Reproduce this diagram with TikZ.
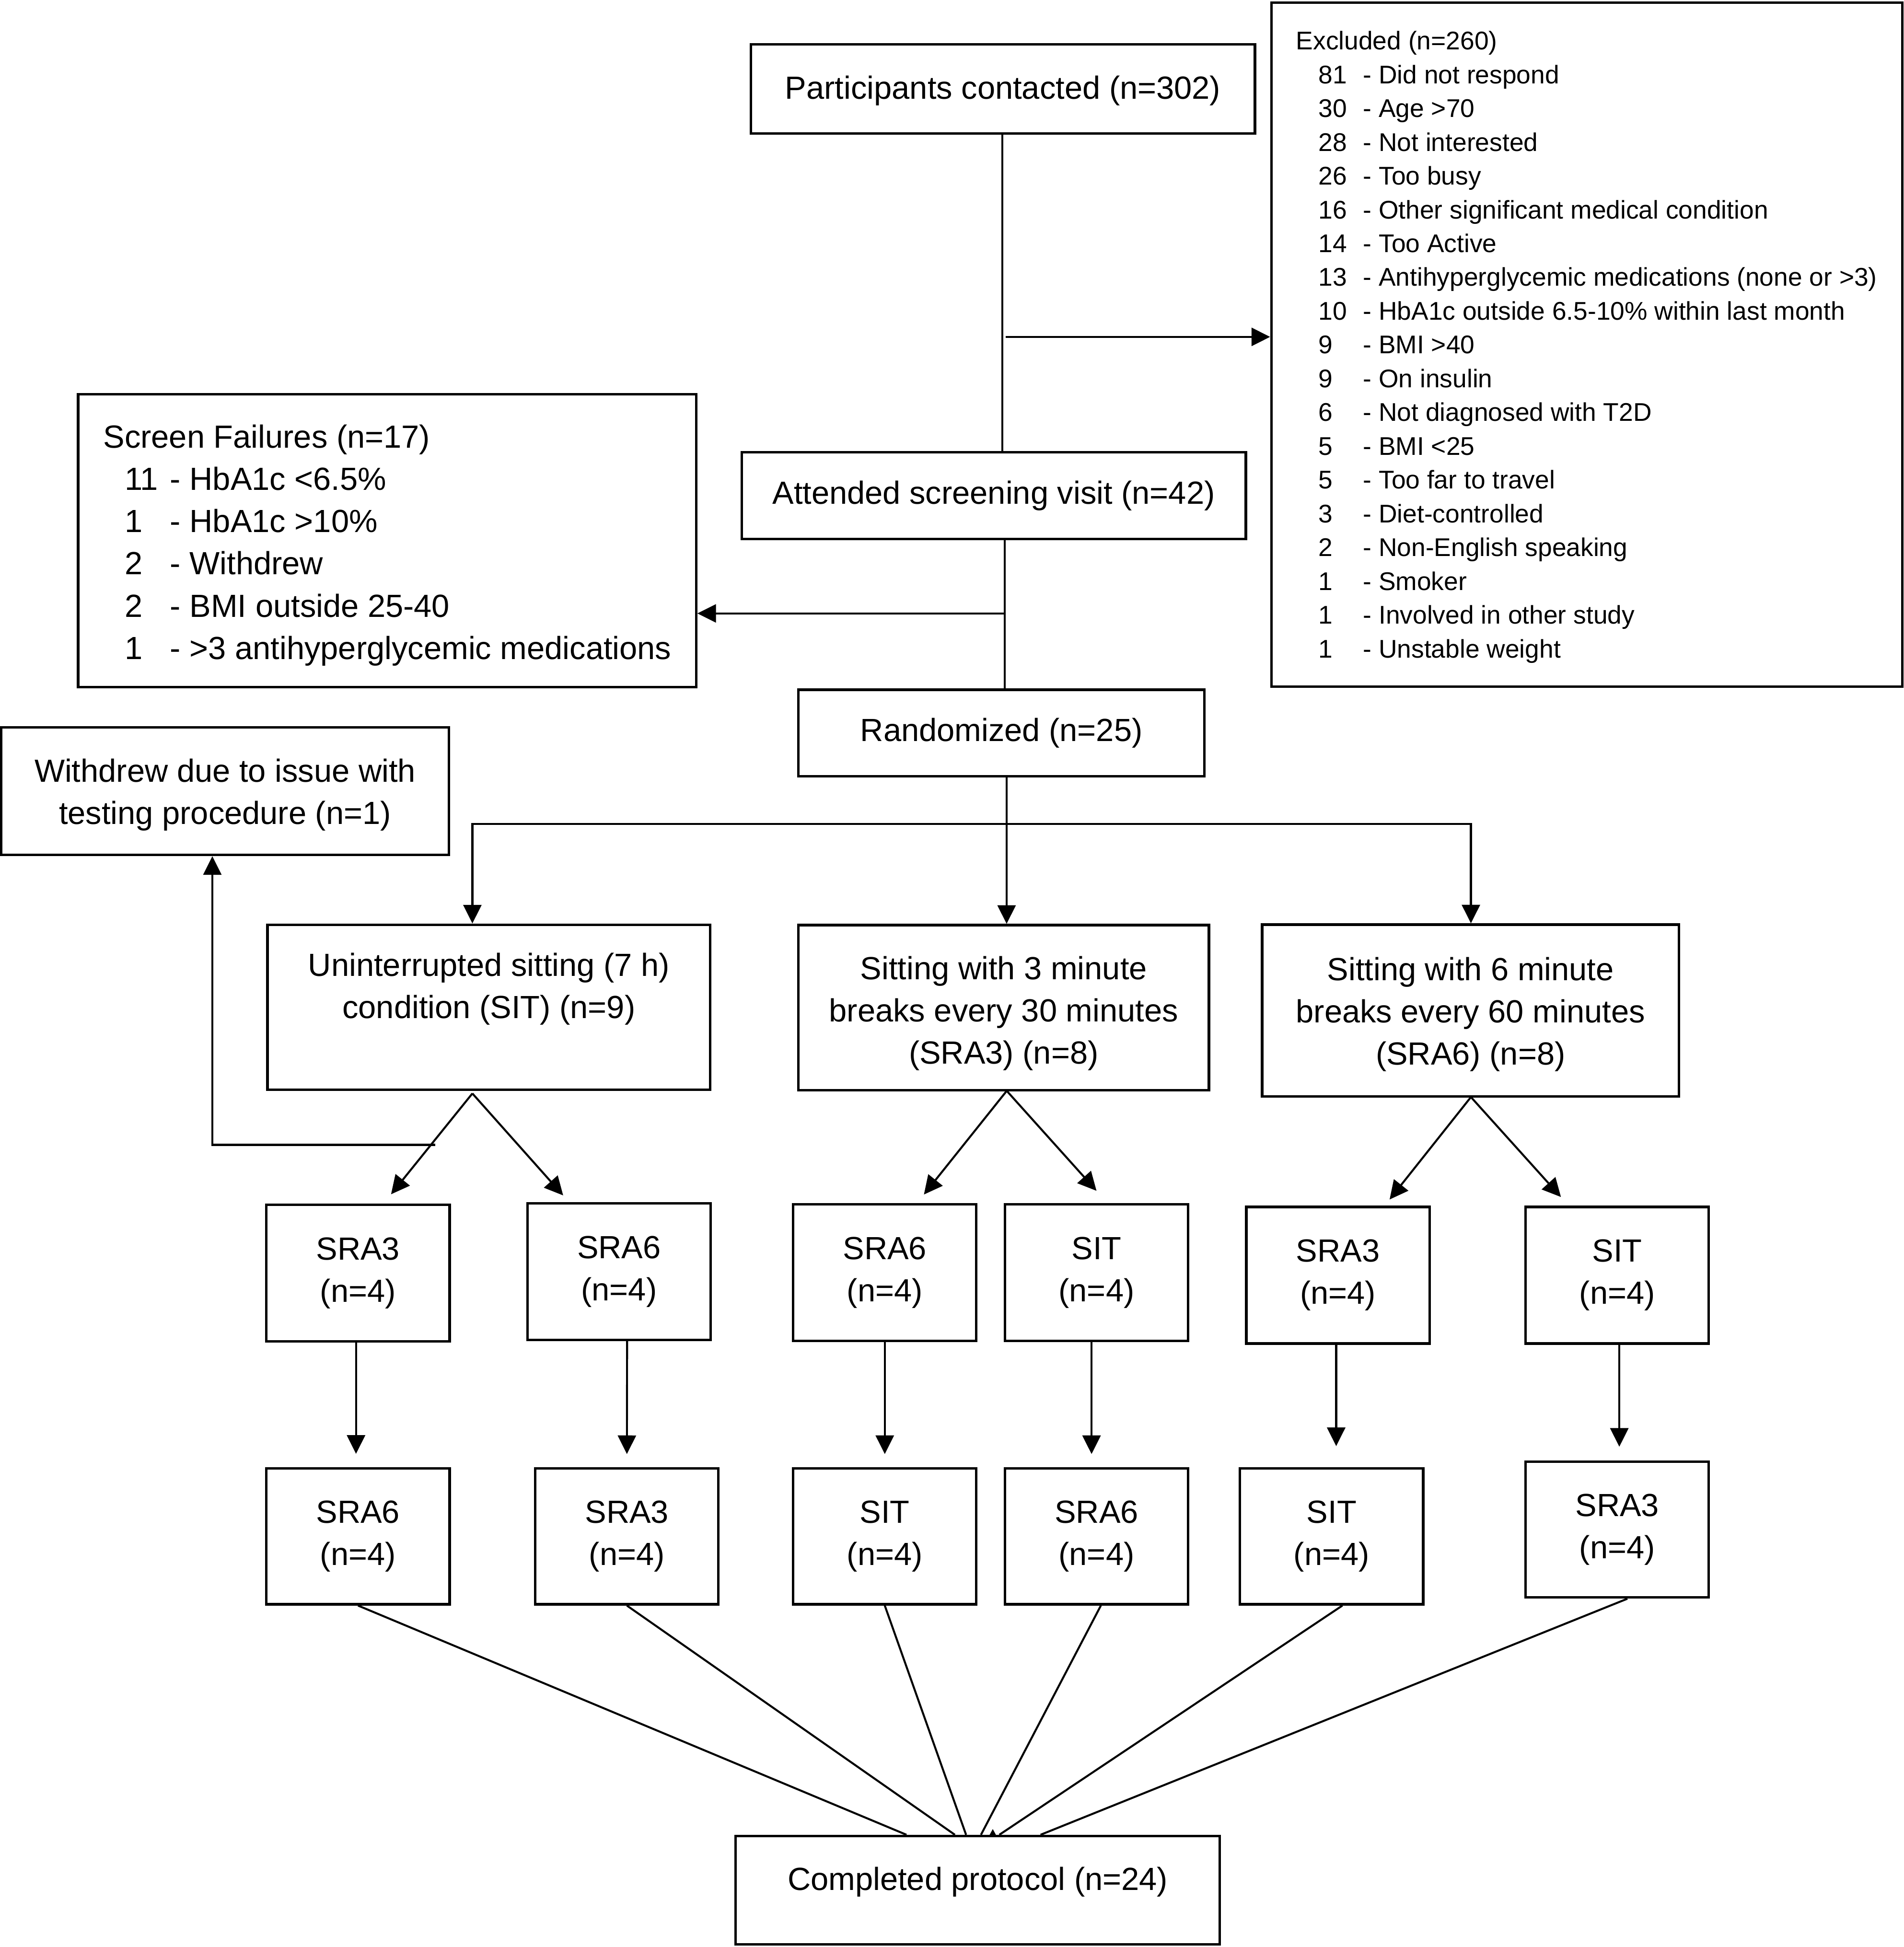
\documentclass[tikz,border=0pt]{standalone}
\usepackage{fontspec}
\setmainfont{Liberation Sans}
\usetikzlibrary{arrows.meta}
\newcommand\fmain{\fontsize{12.9pt}{17pt}\selectfont}
\newcommand\fexcl{\fontsize{10.3pt}{13.6pt}\selectfont}
\newcommand\exrow[2]{\hspace*{9pt}\makebox[18pt][l]{#1}- #2}
\newcommand\sfrow[2]{\hspace*{8.6pt}\makebox[18.3pt][l]{#1}- #2}
\tikzset{
  box/.style={draw, line width=1pt, inner sep=0pt, align=center, font=\fmain},
  txt/.style={inner sep=0pt, align=left},
  ctxt/.style={inner sep=0pt, align=center, font=\fmain},
  ln/.style={line width=0.8pt},
  arr/.style={line width=0.8pt, -{Triangle[length=7.5pt,width=7.3pt]}},
  arrb/.style={line width=0.8pt, {Triangle[length=7.5pt,width=7.3pt]}-{Triangle[length=7.5pt,width=7.3pt]}},
  rbox/.style={box, minimum width=73.75pt, minimum height=55pt},
}
\begin{document}
\begin{tikzpicture}[x=0.5pt,y=-0.5pt]
\useasboundingbox (0,0) rectangle (1533,1568);

% main boxes
\node[box, minimum width=203pt, minimum height=36pt] (part) at (807.6,71.6) {};
\node[ctxt] (parttxt) at ([yshift=-0.8pt]part.center) {Participants contacted (n=302)};
\node[box, minimum width=203pt, minimum height=34.9pt] (att) at (800.25,399.1) {Attended screening visit (n=42)};
\node[box, minimum width=163.5pt, minimum height=34.75pt] (rand) at (806.5,590.25) {Randomized (n=25)};

% excluded
\node[box, minimum width=254.1pt, minimum height=275.5pt] (excl) at (1277.9,277.5) {};
\node[txt, font=\fexcl, anchor=west] (excltxt) at ([xshift=10.25pt,yshift=-1pt]excl.west) {Excluded (n=260)\\
\exrow{81}{Did not respond}\\
\exrow{30}{Age >70}\\
\exrow{28}{Not interested}\\
\exrow{26}{Too busy}\\
\exrow{16}{Other significant medical condition}\\
\exrow{14}{Too Active}\\
\exrow{13}{Antihyperglycemic medications (none or >3)}\\
\exrow{10}{HbA1c outside 6.5-10\% within last month}\\
\exrow{9}{BMI >40}\\
\exrow{9}{On insulin}\\
\exrow{6}{Not diagnosed with T2D}\\
\exrow{5}{BMI <25}\\
\exrow{5}{Too far to travel}\\
\exrow{3}{Diet-controlled}\\
\exrow{2}{Non-English speaking}\\
\exrow{1}{Smoker}\\
\exrow{1}{Involved in other study}\\
\exrow{1}{Unstable weight}};

% screen failures
\node[box, minimum width=248.85pt, minimum height=117.95pt] (sf) at (311.75,435.55) {};
\node[txt, font=\fmain, anchor=west] (sftxt) at ([xshift=10.45pt,yshift=-1.8pt]sf.west) {Screen Failures (n=17)\\
\sfrow{11}{HbA1c <6.5\%}\\
\sfrow{1}{HbA1c >10\%}\\
\sfrow{2}{Withdrew}\\
\sfrow{2}{BMI outside 25-40}\\
\sfrow{1}{>3 antihyperglycemic medications}};

% withdrew
\node[box, minimum width=180.25pt, minimum height=51.35pt] (wd) at (181.25,637.2) {};
\node[ctxt] (wdtxt) at ([yshift=-1.5pt]wd.center) {Withdrew due to issue with\\testing procedure (n=1)};

% conditions
\node[box, minimum width=178.3pt, minimum height=66.4pt] (c1) at (393.7,811.1) {};
\node[ctxt, anchor=north] (c1txt) at ([yshift=-11.6pt]c1.north) {Uninterrupted sitting (7 h)\\condition (SIT) (n=9)};
\node[box, minimum width=165.25pt, minimum height=66.5pt] (c2) at (808.25,811.5) {};
\node[ctxt] (c2txt) at ([yshift=-2.3pt]c2.center) {Sitting with 3 minute\\breaks every 30 minutes\\(SRA3) (n=8)};
\node[box, minimum width=167.8pt, minimum height=69.2pt] (c3) at (1184.2,813.8) {};
\node[ctxt] (c3txt) at ([yshift=-1.5pt]c3.center) {Sitting with 6 minute\\breaks every 60 minutes\\(SRA6) (n=8)};

% row 2
\node[rbox] (r2a) at (288.3,1025.25) {SRA3\\(n=4)};
\node[rbox] (r2b) at (498.5,1024) {SRA6\\(n=4)};
\node[rbox] (r2c) at (712.5,1025) {SRA6\\(n=4)};
\node[rbox] (r2d) at (883,1025) {SIT\\(n=4)};
\node[rbox] (r2e) at (1077.4,1027) {SRA3\\(n=4)};
\node[rbox] (r2f) at (1302.3,1027) {SIT\\(n=4)};

% row 3
\node[rbox, minimum height=54.7pt] (r3a) at (288.3,1237.3) {SRA6\\(n=4)};
\node[rbox, minimum height=54.7pt] (r3b) at (504.8,1237.3) {SRA3\\(n=4)};
\node[rbox, minimum height=54.7pt] (r3c) at (712.5,1237.3) {SIT\\(n=4)};
\node[rbox, minimum height=54.7pt] (r3d) at (883,1237.3) {SRA6\\(n=4)};
\node[rbox, minimum height=54.7pt] (r3e) at (1072.3,1237.3) {SIT\\(n=4)};
\node[rbox, minimum height=54.7pt] (r3f) at (1302.3,1231.8) {SRA3\\(n=4)};

% completed
\node[box, minimum width=195pt, minimum height=43.7pt] (comp) at (787.35,1522.3) {};
\node[ctxt] (comptxt) at (787.35,1515.5) {Completed protocol (n=24)};

% coordinates
\coordinate (j1) at (807,271.3);
\coordinate (j1e) at (810,271.3);
\coordinate (j2) at (809.2,494);
\coordinate (j3) at (810.6,663.5);
\coordinate (hL) at (380.4,663.5);
\coordinate (hR) at (1184.5,663.5);
\coordinate (w1) at (350.5,922);
\coordinate (w2) at (171,922);
\coordinate (a1) at (380.4,880.6);
\coordinate (t1a) at (314.9,961.8);
\coordinate (t1b) at (453.5,962.7);
\coordinate (a2) at (810.7,878.5);
\coordinate (t2a) at (744,962);
\coordinate (t2b) at (883,959);
\coordinate (a3) at (1184.5,883.5);
\coordinate (t3a) at (1119,966);
\coordinate (t3b) at (1257,964);

% top flow
\draw[ln] (part.south -| j1) -- (att.north -| j1);
\draw[arr] (j1e) -- (excl.west |- j1e);
\draw[ln] (att.south -| j2) -- (rand.north -| j2);
\draw[arr] (j2) -- (sf.east |- j2);
\draw[ln] (rand.south -| j3) -- (j3);
\draw[arr] (j3) -- (j3 |- c2.north);
\draw[arrb] (hL |- c1.north) -- (hL) -- (hR) -- (hR |- c3.north);

% withdrew
\draw[arr] (w1) -- (w2) -- (w2 |- wd.south);

% diagonals
\draw[arr] (a1) -- (t1a);
\draw[arr] (a1) -- (t1b);
\draw[arr] (a2) -- (t2a);
\draw[arr] (a2) -- (t2b);
\draw[arr] (a3) -- (t3a);
\draw[arr] (a3) -- (t3b);

% row 2 -> row 3
\draw[arr, shorten >=5.4pt] ([xshift=-0.8pt]r2a.south) -- ([xshift=-0.8pt]r3a.north);
\draw[arr, shorten >=5.3pt] ([xshift=3.25pt]r2b.south) -- (r3b.north);
\draw[arr, shorten >=5.3pt] (r2c.south) -- (r3c.north);
\draw[arr, shorten >=5.3pt] ([xshift=-2pt]r2d.south) -- ([xshift=-2pt]r3d.north);
\draw[arr, shorten >=8.5pt] ([xshift=-0.7pt]r2e.south) -- ([xshift=1.85pt]r3e.north);
\draw[arr, shorten >=5.5pt] ([xshift=0.85pt]r2f.south) -- ([xshift=0.85pt]r3f.north);

% converging lines
\draw[ln] (r3a.south) -- ([xshift=-28.7pt]comp.north);
\draw[ln] (r3b.south) -- ([xshift=-9.2pt]comp.north);
\draw[ln] (r3c.south) -- ([xshift=-4.7pt]comp.north);
\draw[ln] ([xshift=1.75pt]r3d.south) -- ([xshift=1.3pt]comp.north);
\draw[ln] ([xshift=4.35pt]r3e.south) -- ([xshift=8.7pt]comp.north);
\draw[ln] ([xshift=4.1pt]r3f.south) -- ([xshift=25.3pt]comp.north);
\fill ([xshift=4.8pt]comp.north) -- ([xshift=6.05pt,yshift=2.3pt]comp.north) -- ([xshift=7.3pt]comp.north) -- cycle;

\end{tikzpicture}
\end{document}
